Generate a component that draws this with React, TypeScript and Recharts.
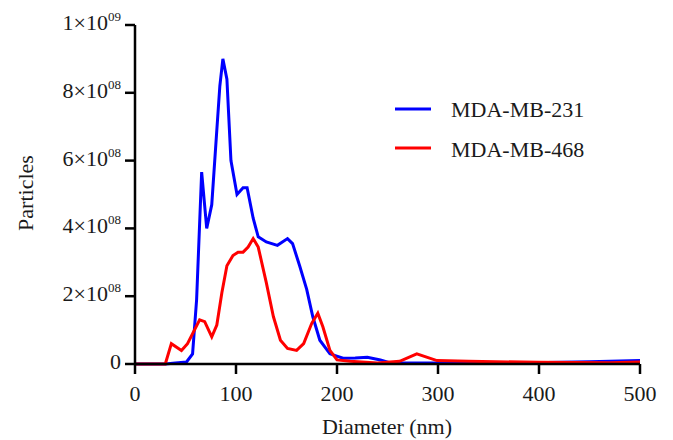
import React from 'react';
import { LineChart, Line, XAxis, YAxis } from 'recharts';

const blueX = [0, 30, 40, 51, 57, 61, 66, 71, 76, 81, 84, 87, 91, 95, 101, 107, 111, 117, 122, 130, 141, 151, 156, 163, 170, 176, 183, 193, 206, 218, 230, 243, 252, 300, 394, 450, 500];
const blueY = [0, 0, 0.003, 0.006, 0.03, 0.19, 0.566, 0.4, 0.47, 0.69, 0.82, 0.9, 0.84, 0.6, 0.5, 0.52, 0.52, 0.43, 0.375, 0.36, 0.35, 0.37, 0.355, 0.29, 0.22, 0.14, 0.07, 0.03, 0.017, 0.018, 0.02, 0.012, 0.004, 0.003, 0.004, 0.007, 0.01];

const redX = [0, 30, 36, 46, 52, 64, 69, 76, 81, 86, 91, 97, 102, 107, 112, 117, 122, 130, 137, 144, 151, 160, 167, 175, 181, 186, 193, 200, 213, 240, 262, 279, 299, 330, 400, 470, 500];
const redY = [0, 0, 0.06, 0.04, 0.06, 0.13, 0.125, 0.08, 0.115, 0.21, 0.29, 0.32, 0.33, 0.33, 0.345, 0.37, 0.345, 0.24, 0.14, 0.07, 0.046, 0.04, 0.06, 0.12, 0.15, 0.11, 0.04, 0.012, 0.008, 0.003, 0.008, 0.03, 0.01, 0.008, 0.005, 0.004, 0.006];

const xTicks = [0, 100, 200, 300, 400, 500];
const yTicks = [0, 2e8, 4e8, 6e8, 8e8, 1e9];
const yTickText: Record<number, [string, string]> = {
  0: ['0', ''],
  200000000: ['2×10', '08'],
  400000000: ['4×10', '08'],
  600000000: ['6×10', '08'],
  800000000: ['8×10', '08'],
  1000000000: ['1×10', '09'],
};

const blueData = blueX.map((x, i) => ({ x, y: blueY[i] * 1e9 }));
const redData = redX.map((x, i) => ({ x, y: redY[i] * 1e9 }));

const FONT = '"Liberation Serif", "DejaVu Serif", serif';
const INK = '#1a1a1a';

const YTick = ({ x, y, payload }: any) => {
  const [base, sup] = yTickText[payload.value] ?? [String(payload.value), ''];
  return (
    <text x={x - 2} y={y + 5} textAnchor="end" fontFamily={FONT} fontSize={22} fill={INK}>
      <tspan>{base}</tspan>
      {sup && <tspan dy={-9} fontSize={13}>{sup}</tspan>}
    </text>
  );
};

const XTick = ({ x, y, payload }: any) => (
  <text x={x} y={y + 25} textAnchor="middle" fontFamily={FONT} fontSize={22} fill={INK}>
    {payload.value}
  </text>
);

export default function App() {
  return (
    <div style={{ position: 'absolute', left: 0, top: 0, width: 673, height: 440, background: '#fff' }}>
      <LineChart width={673} height={440} data={blueData} margin={{ top: 25, right: 33, bottom: 0, left: 0 }}>
        <XAxis
          dataKey="x"
          type="number"
          domain={[0, 500]}
          ticks={xTicks}
          height={76}
          stroke="#000"
          strokeWidth={2.5}
          tickSize={10}
          tick={<XTick />}
          allowDataOverflow
        />
        <YAxis
          type="number"
          domain={[0, 1e9]}
          ticks={yTicks}
          width={135}
          stroke="#000"
          strokeWidth={2.5}
          tickSize={10}
          tick={<YTick />}
        />
        <Line data={blueData} dataKey="y" stroke="#0000ff" strokeWidth={3} dot={false} type="linear" isAnimationActive={false} />
        <Line data={redData} dataKey="y" stroke="#ff0000" strokeWidth={3} dot={false} type="linear" isAnimationActive={false} />
        <text x={33} y={193} transform="rotate(-90 33 193)" textAnchor="middle" fontFamily={FONT} fontSize={22} fill={INK}>
          Particles
        </text>
        <text x={387} y={434} textAnchor="middle" fontFamily={FONT} fontSize={22} fill={INK}>
          Diameter (nm)
        </text>
        <line x1={395} x2={431} y1={109} y2={109} stroke="#0000ff" strokeWidth={3} />
        <text x={451} y={117} fontFamily={FONT} fontSize={22} fill={INK}>MDA-MB-231</text>
        <line x1={395} x2={431} y1={148} y2={148} stroke="#ff0000" strokeWidth={3} />
        <text x={451} y={157} fontFamily={FONT} fontSize={22} fill={INK}>MDA-MB-468</text>
      </LineChart>
    </div>
  );
}
